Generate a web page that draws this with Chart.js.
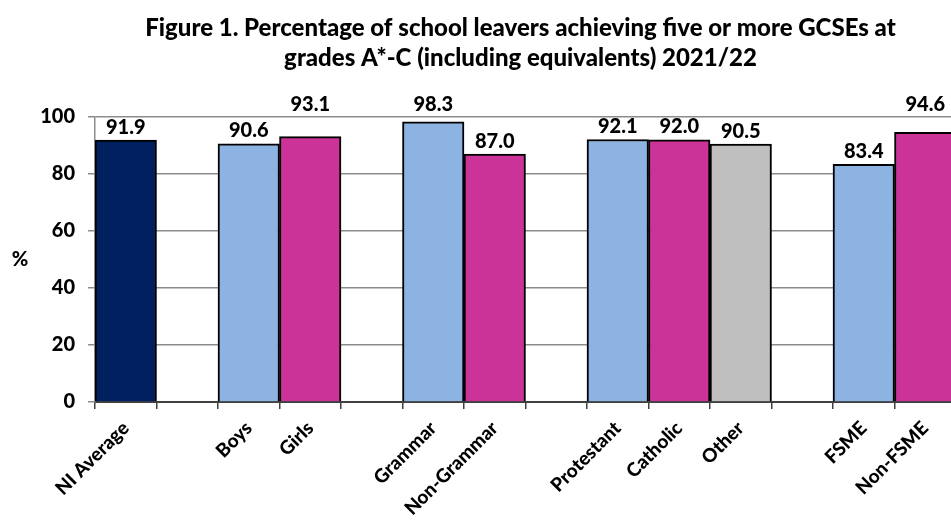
<html>
<head>
<script src="https://cdn.jsdelivr.net/npm/chart.js"></script>
<style>
    body { margin: 0; overflow: hidden; background: #fff; }
    #wrap { width: 951px; height: 520px; overflow: hidden; }
</style>
</head>
<body>
<div id="wrap">
    <canvas id="chart" width="956" height="520"></canvas>
</div>
<script>
    // categories, '' marks the empty gap between groups
    var labels = ['NI Average', '', 'Boys', 'Girls', '', 'Grammar', 'Non-Grammar', '', 'Protestant', 'Catholic', 'Other', '', 'FSME', 'Non-FSME'];
    var values = [91.9, null, 90.6, 93.1, null, 98.3, 87.0, null, 92.1, 92.0, 90.5, null, 83.4, 94.6];
    var barColours = ['#002060', null, '#8DB3E2', '#CC3399', null, '#8DB3E2', '#CC3399', null, '#8DB3E2', '#CC3399', '#BFBFBF', null, '#8DB3E2', '#CC3399'];
    var yTicks = [0, 20, 40, 60, 80, 100];
    var titleLines = ['Figure 1. Percentage of school leavers achieving five or more GCSEs at', 'grades A*-C (including equivalents) 2021/22'];

    var fontFamily = 'Lato, "Open Sans", sans-serif';

    // title, '%' and the value labels
    var extras = {
        id: 'extras',
        afterDraw: function(chart) {
            var ctx = chart.ctx;
            var area = chart.chartArea;
            ctx.save();
            ctx.fillStyle = '#000';
            ctx.textAlign = 'center';
            ctx.textBaseline = 'middle';

            ctx.font = '900 24px ' + fontFamily;
            var cx = (area.left + area.right) / 2 - 5;
            ctx.fillText(titleLines[0], cx, 28);
            ctx.fillText(titleLines[1], cx, 58);

            ctx.font = '900 20px ' + fontFamily;
            ctx.fillText('%', 20, (area.top + area.bottom) / 2);

            var meta = chart.getDatasetMeta(0);
            meta.data.forEach(function(bar, i) {
                if (values[i] == null) return;
                var y = bar.y - 13;
                if (y - 7 < area.top) y = area.top - 12;
                ctx.fillText(values[i].toFixed(1), bar.x, y);
            });
            ctx.restore();
        }
    };

    new Chart(document.getElementById('chart'), {
        type: 'bar',
        data: {
            labels: labels,
            datasets: [{
                data: values,
                backgroundColor: barColours,
                borderColor: '#000',
                borderWidth: 2,
                barPercentage: 1,
                categoryPercentage: 1
            }]
        },
        options: {
            responsive: false,
            animation: false,
            layout: { padding: { top: 117, left: 0, right: 0, bottom: 0 } },
            plugins: {
                legend: { display: false },
                tooltip: { enabled: false }
            },
            scales: {
                x: {
                    afterFit: function(s) { s.height = 118; },
                    grid: {
                        offset: true,
                        drawOnChartArea: false,
                        drawTicks: true,
                        tickLength: 7,
                        color: '#404040',
                        lineWidth: 1.5
                    },
                    border: { color: '#404040', width: 2 },
                    ticks: {
                        autoSkip: false,
                        minRotation: 45,
                        maxRotation: 45,
                        padding: 8,
                        color: '#000',
                        font: { family: fontFamily, size: 19, weight: '900' }
                    }
                },
                y: {
                    min: 0,
                    max: 100,
                    afterFit: function(s) { s.width = 95; },
                    afterBuildTicks: function(s) { s.ticks = yTicks.map(function(v) { return { value: v }; }); },
                    grid: {
                        color: '#8c8c8c',
                        lineWidth: 1.5,
                        tickLength: 7
                    },
                    border: { color: '#8c8c8c', width: 1.5 },
                    ticks: {
                        padding: 13,
                        color: '#000',
                        font: { family: fontFamily, size: 20, weight: '900' }
                    }
                }
            }
        },
        plugins: [extras]
    });
</script>
</body>
</html>
